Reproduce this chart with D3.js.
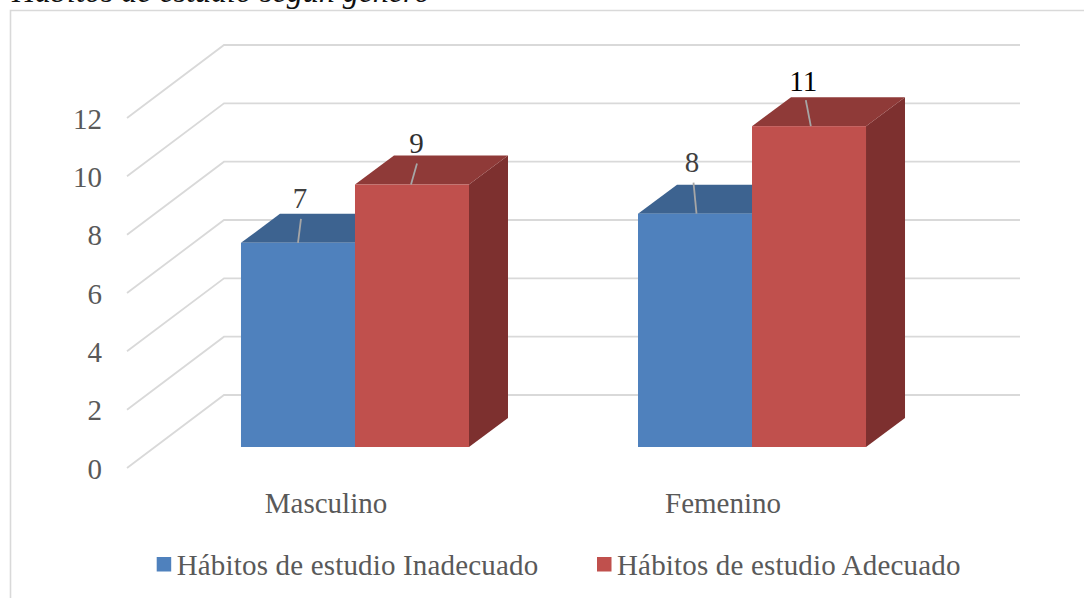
<!DOCTYPE html>
<html>
<head>
<meta charset="utf-8">
<script src="https://cdn.jsdelivr.net/npm/d3@7"></script>
<style>
  html, body { margin: 0; padding: 0; background: #fff; overflow: hidden; }
  text { font-family: "Liberation Serif", serif; }
</style>
</head>
<body>
<svg width="1084" height="598"></svg>
<script>
var titleText = 'Hábitos de estudio según género';
var categories = ['Masculino', 'Femenino'];
var seriesNames = ['Hábitos de estudio Inadecuado', 'Hábitos de estudio Adecuado'];
var inadecuado = [7, 8];
var adecuado = [9, 11];
var yTicks = [0, 2, 4, 6, 8, 10, 12];

var colors = [
  { front: '#4f81bd', top: '#3d6390', side: '#2f4f75' },
  { front: '#c0504d', top: '#8f3a38', side: '#7d302f' }
];
var seriesValues = [inadecuado, adecuado];

var svg = d3.select('svg');

// 3d offset of the bars and of the walls, from the front plane of the bars
var depthX = 39, depthY = 29;
var wallBack = { y: -52 };
var wallFront = { y: 21 };
var fontSize = 29;

var x0 = d3.scaleBand().domain(categories).range([156.5, 950.5]).paddingInner(0.4257).paddingOuter(0.2128);
var x1 = d3.scaleBand().domain([0, 1]).range([0, x0.bandwidth()]);
var y = d3.scaleLinear().domain([0, 12]).range([447, 97]);

// frame
svg.append('path')
  .attr('d', 'M10.5,598V10.5H1084')
  .attr('fill', 'none')
  .attr('stroke', '#d9d9d9')
  .attr('stroke-width', 1.6);

// title, cut by the top of the picture in the reference too
svg.append('text')
  .attr('x', 12)
  .attr('y', 2)
  .attr('font-size', 32)
  .attr('font-style', 'italic')
  .attr('fill', '#111')
  .text(titleText);

// walls
svg.append('g').selectAll('path')
  .data(yTicks)
  .enter().append('path')
  .attr('fill', 'none')
  .attr('stroke', '#d9d9d9')
  .attr('stroke-width', 1.8)
  .attr('d', function(d) {
    return 'M127,' + (y(d) + wallFront.y) + 'L224,' + (y(d) + wallBack.y) + 'H1020';
  });

// y axis
var yAxis = svg.append('g')
  .attr('transform', 'translate(102,' + (wallFront.y + 1) + ')')
  .call(d3.axisLeft(y).tickValues(yTicks).tickSize(0).tickPadding(0));
yAxis.select('.domain').remove();
yAxis.selectAll('text')
  .attr('font-size', fontSize)
  .attr('font-family', '"Liberation Serif", serif')
  .attr('fill', '#595959');

// category axis
var xAxis = svg.append('g')
  .attr('transform', 'translate(-29,492.4)')
  .call(d3.axisBottom(x0).tickSize(0).tickPadding(0));
xAxis.select('.domain').remove();
xAxis.selectAll('text')
  .attr('font-size', fontSize)
  .attr('font-family', '"Liberation Serif", serif')
  .attr('fill', '#595959');

// bars, one series at a time so red covers the side of blue
seriesValues.forEach(function(values, s) {
  var g = svg.append('g').selectAll('g')
    .data(values)
    .enter().append('g')
    .attr('transform', function(d, i) { return 'translate(' + (x0(categories[i]) + x1(s)) + ',0)'; });
  var w = x1.bandwidth();

  g.append('path')
    .attr('fill', colors[s].side)
    .attr('d', function(d) {
      return 'M' + w + ',' + y(d) + 'l' + depthX + ',' + (-depthY) + 'V' + (y(0) - depthY) + 'L' + w + ',' + y(0) + 'Z';
    });
  g.append('path')
    .attr('fill', colors[s].top)
    .attr('d', function(d) {
      return 'M0,' + y(d) + 'l' + depthX + ',' + (-depthY) + 'h' + w + 'l' + (-depthX) + ',' + depthY + 'Z';
    });
  g.append('rect')
    .attr('y', function(d) { return y(d); })
    .attr('width', w)
    .attr('height', function(d) { return y(0) - y(d); })
    .attr('fill', colors[s].front);
});

// data labels with their leader lines, placed by hand like in the reference
// [category][series]: foot of the leader from bar left, leader slant and rise, text shift and rise
var labelPlace = [
  [{ foot: 57, lean: 3, rise: 24, textDx: 2, textUp: 35, fill: '#404040' }, { foot: 56, lean: 6, rise: 21, textDx: 5.5, textUp: 31.5, fill: '#303030' }],
  [{ foot: 58.5, lean: -3, rise: 31, textDx: -4.5, textUp: 41.7, fill: '#404040' }, { foot: 58.8, lean: -5, rise: 26, textDx: -7.5, textUp: 35, fill: '#000' }]
];
seriesValues.forEach(function(values, s) {
  values.forEach(function(d, i) {
    var p = labelPlace[i][s];
    var bx = x0(categories[i]) + x1(s) + p.foot;
    svg.append('line')
      .attr('x1', bx).attr('y1', y(d))
      .attr('x2', bx + p.lean).attr('y2', y(d) - p.rise)
      .attr('stroke', '#a6a6a6')
      .attr('stroke-width', 1.8);
    svg.append('text')
      .attr('x', bx + p.textDx)
      .attr('y', y(d) - p.textUp)
      .attr('text-anchor', 'middle')
      .attr('font-size', fontSize)
      .attr('fill', p.fill)
      .text(d);
  });
});

// legend
var legendX = [156.7, 597];
var legend = svg.append('g').selectAll('g')
  .data(seriesNames)
  .enter().append('g')
  .attr('transform', function(d, i) { return 'translate(' + legendX[i] + ',557)'; });
legend.append('rect')
  .attr('width', 14.5)
  .attr('height', 14.5)
  .attr('fill', function(d, i) { return colors[i].front; });
legend.append('text')
  .attr('x', 20)
  .attr('y', 18)
  .attr('font-size', fontSize)
  .attr('letter-spacing', 0.17)
  .attr('fill', '#595959')
  .text(function(d) { return d; });
</script>
</body>
</html>
